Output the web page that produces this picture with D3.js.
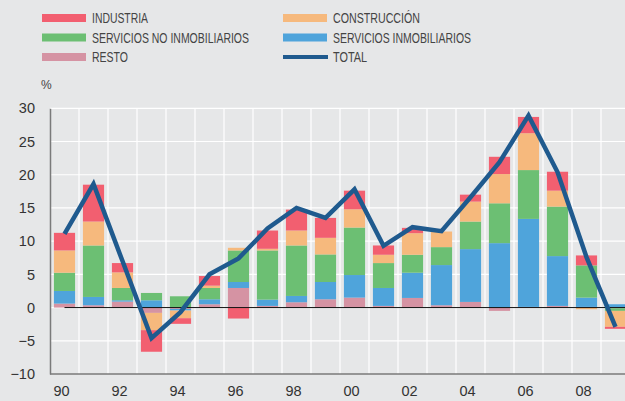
<!DOCTYPE html>
<html>
<head>
<meta charset="utf-8">
<script src="https://cdn.jsdelivr.net/npm/d3@7"></script>
<style>
  body { margin: 0; background: #e6e7e8; }
  svg { display: block; font-family: "Liberation Sans", Arial, sans-serif; }
</style>
</head>
<body>
<svg id="chart" width="625" height="401"></svg>
<script>
const years = d3.range(1990, 2010);
const resto = [0.6, 0.35, 0.9, -0.8, -0.2, 0.5, 2.95, 0.25, 0.8, 1.25, 1.5, 0.25, 1.45, 0.35, 0.85, -0.5, 0.1, 0.25, 0.1, -0.1];
const inmob = [1.9, 1.25, 0.2, 1.1, -0.25, 0.75, 0.9, 0.95, 0.95, 2.6, 3.4, 2.7, 3.8, 6.05, 7.95, 9.7, 13.25, 7.5, 1.4, 0.5];
const noInmob = [2.75, 7.75, 1.85, 1.1, 1.7, 1.7, 4.75, 7.4, 7.6, 4.15, 7.15, 3.75, 2.7, 2.7, 4.15, 6.0, 7.35, 7.45, 4.85, -0.4];
const construccion = [3.35, 3.6, 2.35, -2.6, -1.15, 0.35, 0.4, 0.25, 2.25, 2.5, 2.75, 1.25, 3.25, 2.35, 3.0, 4.4, 5.55, 2.4, -0.25, -2.4];
const industria = [2.65, 5.55, 1.4, -3.25, -0.85, 1.45, -1.65, 2.75, 3.15, 3.0, 2.8, 1.4, 0.8, 0.0, 1.05, 2.6, 2.45, 2.85, 1.5, -0.3];
const total = [11.1, 18.6, 7.0, -4.6, -0.7, 5.0, 7.4, 11.9, 15.0, 13.5, 17.8, 9.3, 12.1, 11.5, 16.6, 21.9, 28.9, 20.4, 7.6, -2.9];
const yTicks = [-10, -5, 0, 5, 10, 15, 20, 25, 30];

const series = [
  { key: 'resto', name: 'RESTO', values: resto, color: '#d593a3' },
  { key: 'inmob', name: 'SERVICIOS INMOBILIARIOS', values: inmob, color: '#4fa4db' },
  { key: 'noInmob', name: 'SERVICIOS NO INMOBILIARIOS', values: noInmob, color: '#6cbf73' },
  { key: 'construccion', name: 'CONSTRUCCIÓN', values: construccion, color: '#f6b97d' },
  { key: 'industria', name: 'INDUSTRIA', values: industria, color: '#f25f70' },
];
const LINE_COLOR = '#1f5a8e';

const table = years.map((yr, i) => {
  const row = { year: yr };
  series.forEach((s) => { row[s.key] = s.values[i]; });
  return row;
});

const svg = d3.select('#chart');
const left = 50;
const x = d3.scaleBand().domain(years).range([left, left + 29 * years.length]).paddingInner(0.27).paddingOuter(0.135);
const xb = d3.scaleBand().domain(years).range([left, left + 29 * years.length]);
const y = d3.scaleLinear().domain([-10, 30]).range([374, 108.3]);

// grid
svg.append('g').selectAll('line').data(yTicks.filter((t) => t > -10)).join('line')
  .attr('x1', left).attr('x2', 625)
  .attr('y1', (d) => y(d)).attr('y2', (d) => y(d))
  .attr('stroke', '#fff').attr('stroke-width', 1.2);
svg.append('g').selectAll('line').data(years.slice(1)).join('line')
  .attr('x1', (d) => xb(d)).attr('x2', (d) => xb(d))
  .attr('y1', y(30)).attr('y2', y(-10))
  .attr('stroke', '#fff').attr('stroke-width', 1.2);

// stacked bars
const stack = d3.stack().keys(series.map((s) => s.key)).offset(d3.stackOffsetDiverging);
const layers = stack(table);
svg.append('g').selectAll('g').data(layers).join('g')
  .attr('fill', (d, i) => series[i].color)
  .selectAll('rect').data((d) => d).join('rect')
  .attr('x', (d) => x(d.data.year))
  .attr('width', x.bandwidth())
  .attr('y', (d) => y(Math.max(d[0], d[1])))
  .attr('height', (d) => Math.abs(y(d[0]) - y(d[1])));

// zero line
svg.append('line')
  .attr('x1', xb(1990) + xb.bandwidth() / 2).attr('x2', 625)
  .attr('y1', y(0)).attr('y2', y(0))
  .attr('stroke', '#111').attr('stroke-width', 1);

// total line
const line = d3.line().x((d, i) => xb(years[i]) + xb.bandwidth() / 2).y((d) => y(d));
svg.append('path').datum(total)
  .attr('d', line)
  .attr('fill', 'none')
  .attr('stroke', LINE_COLOR)
  .attr('stroke-width', 4.5)
  .attr('stroke-linejoin', 'miter');

// axes
const yAxis = d3.axisLeft(y).tickValues(yTicks).tickSize(0).tickPadding(15);
const gy = svg.append('g').attr('transform', `translate(${left},0)`).call(yAxis);
gy.select('.domain').attr('stroke', '#7a7a7a').attr('stroke-width', 1.5);
gy.selectAll('text').attr('font-size', 14.5).attr('fill', '#333').attr('font-family', 'Liberation Sans, Arial, sans-serif');

const xAxis = d3.axisBottom(xb).tickValues(years.filter((yr) => yr % 2 === 0))
  .tickFormat((d) => String(d).slice(2)).tickSize(0).tickPadding(12);
const gx = svg.append('g').attr('transform', `translate(0,${y(-10)})`).call(xAxis);
gx.select('.domain').attr('stroke', '#7a7a7a').attr('stroke-width', 1.5).attr('d', `M${left},0H625`);
gx.selectAll('text').attr('font-size', 14.5).attr('fill', '#333').attr('font-family', 'Liberation Sans, Arial, sans-serif')
  .attr('dx', -3);

// legend
const legendItems = [
  { name: 'INDUSTRIA', color: '#f25f70', col: 0, row: 0, w: 56 },
  { name: 'CONSTRUCCIÓN', color: '#f6b97d', col: 1, row: 0, w: 87 },
  { name: 'SERVICIOS NO INMOBILIARIOS', color: '#6cbf73', col: 0, row: 1, w: 157 },
  { name: 'SERVICIOS INMOBILIARIOS', color: '#4fa4db', col: 1, row: 1, w: 138 },
  { name: 'RESTO', color: '#d593a3', col: 0, row: 2, w: 36 },
  { name: 'TOTAL', color: LINE_COLOR, col: 1, row: 2, w: 34, line: true },
];
const lg = svg.append('g');
legendItems.forEach((d) => {
  const lx = d.col === 0 ? 42 : 283;
  const ly = 18 + d.row * 19.5;
  if (d.line) {
    lg.append('rect').attr('x', lx).attr('y', ly - 2).attr('width', 45).attr('height', 4).attr('fill', d.color);
  } else {
    lg.append('rect').attr('x', lx).attr('y', ly - 4).attr('width', 44).attr('height', 8).attr('fill', d.color);
  }
  lg.append('text').attr('x', lx + 50).attr('y', ly + 5)
    .attr('font-size', 14).attr('fill', '#444')
    .attr('textLength', d.w).attr('lengthAdjust', 'spacingAndGlyphs')
    .text(d.name);
});
svg.append('text').attr('x', 41).attr('y', 89).attr('font-size', 12).attr('fill', '#444').text('%');
</script>
</body>
</html>
